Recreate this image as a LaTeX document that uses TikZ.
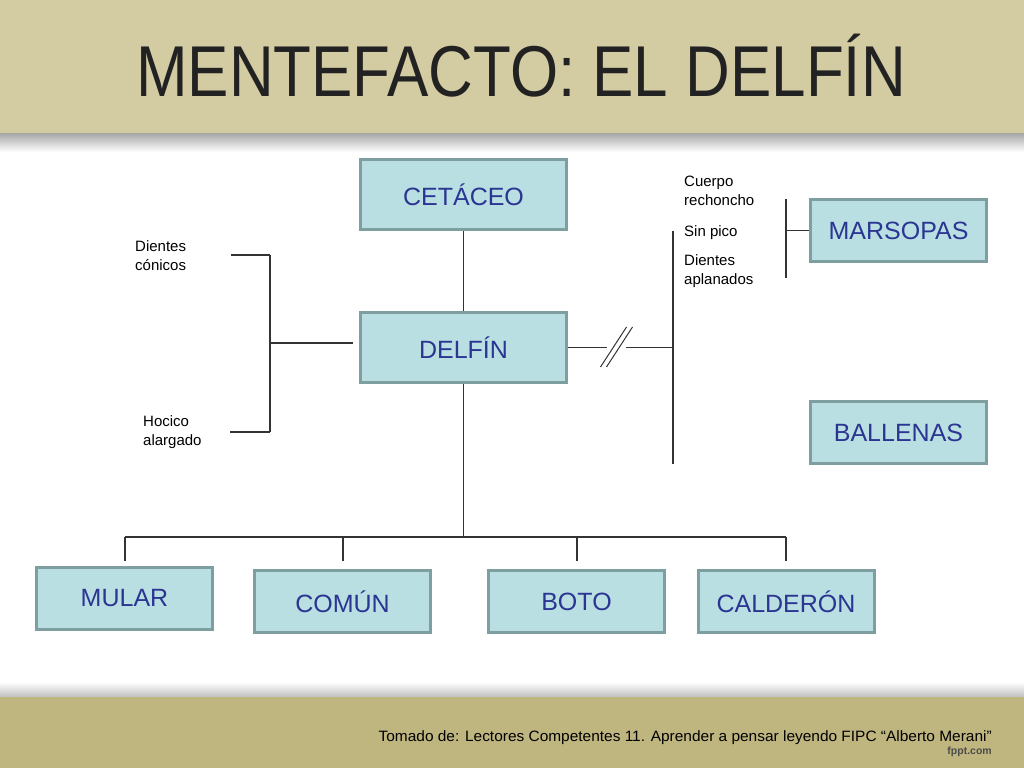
\documentclass[tikz,border=0pt]{standalone}
\usepackage{fontspec}
\setmainfont{Liberation Sans}
\usepackage{graphicx}
\definecolor{band}{HTML}{D3CBA2}
\definecolor{foot}{HTML}{BFB57F}
\definecolor{boxfill}{HTML}{B9DFE3}
\definecolor{boxline}{HTML}{7F9E9F}
\definecolor{boxtext}{HTML}{2B3592}
\definecolor{ln}{HTML}{333333}
\definecolor{titletext}{HTML}{222222}
\begin{document}
\begin{tikzpicture}[x=1pt,y=-1pt,
  concept/.style={draw=boxline, line width=3pt, fill=boxfill, inner sep=0pt, text=boxtext, font=\fontsize{25}{30}\selectfont},
  bigbox/.style={concept, minimum width=206pt, minimum height=70pt},
  smallbox/.style={concept, minimum width=176pt, minimum height=62pt},
  link/.style={draw=ln, line width=1.4pt},
  lbl/.style={align=left, anchor=west, inner sep=0pt, font=\fontsize{15}{19}\selectfont}]
% background and bands
\fill[white] (0,0) rectangle (1024,768);
\useasboundingbox (0,0) rectangle (1024,768);
\shade[top color=black!35, bottom color=white] (0,133) rectangle (1024,152);
\fill[band] (0,0) rectangle (1024,133);
\shade[top color=white, bottom color=black!25] (0,682) rectangle (1024,697);
\fill[foot] (0,697) rectangle (1024,768);
\node[text=titletext, font=\fontsize{72}{80}\selectfont] (title) at (521,66) {\scalebox{0.86}[1]{MENTEFACTO: EL DELFÍN}};
\node[anchor=east, inner sep=0pt, font=\fontsize{15}{17}\selectfont] (src) at (992,738) {\scalebox{1.03}[1]{Tomado de: Lectores Competentes 11. Aprender a pensar leyendo FIPC “Alberto Merani”}};
\node[anchor=east, inner sep=0pt, text=black!70, font=\bfseries\fontsize{10.5}{12}\selectfont] (fppt) at (992,752) {fppt.com};
% boxes
\node[bigbox] (cet) at (463.5,194.5) {CETÁCEO};
\node[bigbox] (del) at (463.5,347.5) {DELFÍN};
\node[smallbox] (mar) at (898.5,230.5) {MARSOPAS};
\node[smallbox] (bal) at (898.5,432.5) {BALLENAS};
\node[smallbox] (mul) at (124.5,598.5) {MULAR};
\node[smallbox] (com) at (342.5,601.5) {COMÚN};
\node[smallbox] (bot) at (576.5,601.5) {BOTO};
\node[smallbox] (cal) at (786,601.5) {CALDERÓN};
% labels
\node[lbl] (dc) at (135,255.5) {Dientes\\cónicos};
\node[lbl] (ha) at (143,432.5) {Hocico\\alargado};
\node[lbl] (cr) at (684,190.5) {Cuerpo\\rechoncho};
\node[lbl] (sp) at (684,233) {Sin pico};
\node[lbl] (da) at (684,271.5) {Dientes\\aplanados};
% vertical connections
\draw[link] (cet.south) -- (del.north);
\coordinate (hub) at (463.5,537);
\draw[link] (del.south) -- (hub);
\coordinate (bl) at (125,537);
\coordinate (br) at (786,537);
\draw[link] (bl) -- (br);
\coordinate (d1) at (125,561);
\coordinate (d2) at (343,561);
\coordinate (d3) at (577,561);
\coordinate (d4) at (786,561);
\coordinate (t2) at (343,537);
\coordinate (t3) at (577,537);
\draw[link] (bl) -- (d1);
\draw[link] (t2) -- (d2);
\draw[link] (t3) -- (d3);
\draw[link] (br) -- (d4);
% left bracket
\coordinate (lh) at (353,343);
\coordinate (lm) at (270,343);
\coordinate (lt) at (270,255);
\coordinate (lb) at (270,432);
\coordinate (lte) at (231,255);
\coordinate (lbe) at (230,432);
\draw[link] (lh) -- (lm);
\draw[link] (lt) -- (lb);
\draw[link] (lte) -- (lt);
\draw[link] (lbe) -- (lb);
% right connection with break
\coordinate (rb1) at (607,347.5);
\coordinate (rb2) at (626,347.5);
\coordinate (rv) at (673,347.5);
\coordinate (rvt) at (673,231);
\coordinate (rvb) at (673,464);
\draw[link] (del.east) -- (rb1);
\draw[link] (rb2) -- (rv);
\coordinate (s1a) at (600.5,367);
\coordinate (s1b) at (626.5,327);
\coordinate (s2a) at (606.5,367);
\coordinate (s2b) at (632.5,327);
\draw[ln, line width=1pt] (s1a) -- (s1b);
\draw[ln, line width=1pt] (s2a) -- (s2b);
\draw[link] (rvt) -- (rvb);
% marsopas bracket
\coordinate (mt) at (786,199);
\coordinate (mb) at (786,278);
\coordinate (mm) at (786,230.5);
\draw[link] (mt) -- (mb);
\draw[link] (mm) -- (mar.west);
\end{tikzpicture}
\end{document}
